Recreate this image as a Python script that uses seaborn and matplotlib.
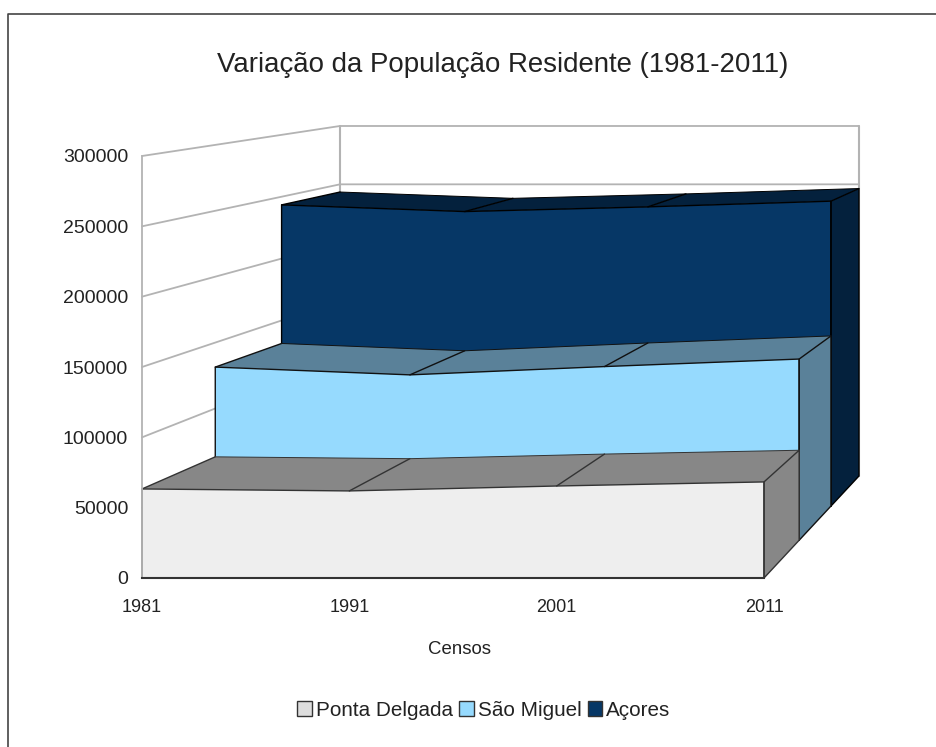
import matplotlib
matplotlib.use('Agg')
import matplotlib.pyplot as plt
from matplotlib.lines import Line2D
from matplotlib.patches import Patch
import seaborn as sns

censos = [1981, 1991, 2001, 2011]
ponta_delgada = [63300, 61900, 65400, 68300]
sao_miguel = [131400, 125500, 131800, 137500]
acores = [243400, 238000, 241800, 246400]
y_ticks = [0, 50000, 100000, 150000, 200000, 250000, 300000]

names = ['Ponta Delgada', 'São Miguel', 'Açores']
front_colors = ['#eeeeee', '#96dafe', '#063766']
shade_colors = ['#878787', '#5a8199', '#04213d']
legend_colors = ['#dddddd', '#96dafe', '#063766']
edge_colors = ['#333333', '#111111', '#000000']
# depth bands of the three areas, 0 = front of the box, 1 = back wall
depths = [(0, 0.37), (0.37, 0.705), (0.705, 1)]

W, H = 937, 747
GRID = '#b3b3b3'
TEXT = '#222222'

sns.set_style('white')
plt.rcParams['font.family'] = ['Liberation Sans', 'DejaVu Sans']


def project(year, value, z):
    # fake perspective: the back wall is shifted and a bit smaller than the front
    left = 1981 + z * 9.55
    right = 2011 + z * 4.58
    x = left + (year - 1981) / 30 * (right - left)
    y = z * 72512 + value * (1 - z * 0.1706)
    return x, y


def line(ax, pts, color, lw=1.0, zorder=2):
    xs = [p[0] for p in pts]
    ys = [p[1] for p in pts]
    sns.lineplot(x=xs, y=ys, estimator=None, sort=False, color=color, linewidth=lw,
                 legend=False, ax=ax, clip_on=False, zorder=zorder)


def face(ax, pts, color, zorder):
    ax.fill([p[0] for p in pts], [p[1] for p in pts], color=color, lw=0,
            clip_on=False, zorder=zorder)


def draw_area(ax, values, z0, z1, front, shade, ec, zorder):
    top_front = [project(c, v, z0) for c, v in zip(censos, values)]
    top_back = [project(c, v, z1) for c, v in zip(censos, values)]
    for i in range(len(censos) - 1):
        face(ax, [top_front[i], top_front[i + 1], top_back[i + 1], top_back[i]], shade, zorder)
    # right hand side
    side = [project(2011, 0, z0), top_front[-1], top_back[-1], project(2011, 0, z1)]
    face(ax, side, shade, zorder)
    outline = [project(1981, 0, z0)] + top_front + [project(2011, 0, z0)]
    face(ax, outline, front, zorder)
    line(ax, outline + [outline[0]], ec, zorder=zorder + 1)
    line(ax, side + [side[0]], ec, zorder=zorder + 1)
    line(ax, top_back, ec, 0.7, zorder=zorder + 1)
    for i in range(len(censos) - 1):
        line(ax, [top_front[i], top_back[i]], ec, zorder=zorder + 1)


fig = plt.figure(figsize=(W / 100, H / 100), dpi=100)
ax = fig.add_axes([142 / W, 1 - 578 / H, 622 / W, 422 / H])
ax.patch.set_alpha(0)

# walls and grid
for t in y_ticks:
    line(ax, [project(1981, t, 0), project(1981, t, 1), project(2011, t, 1)], GRID, 1.3)
line(ax, [project(1981, 0, 1), project(1981, 300000, 1)], GRID, 1.5)
line(ax, [project(2011, 0, 1), project(2011, 300000, 1)], GRID, 1.5)

series = [ponta_delgada, sao_miguel, acores]
for n, k in enumerate([2, 1, 0]):
    draw_area(ax, series[k], depths[k][0], depths[k][1],
              front_colors[k], shade_colors[k], edge_colors[k], 3 + 2 * n)

ax.set_xlim(1981, 2011)
ax.set_ylim(0, 300000)
ax.set_xticks(censos)
ax.set_yticks(y_ticks)
ax.set_xticklabels([str(c) for c in censos], fontsize=13, color=TEXT)
ax.set_yticklabels([str(t) for t in y_ticks], fontsize=14, color=TEXT, va='center_baseline')
ax.tick_params(axis='x', length=0, pad=15)
ax.tick_params(axis='y', length=0, pad=10)
ax.set_ylabel('')
ax.set_xlabel('Censos', fontsize=13.4, color=TEXT)
ax.xaxis.set_label_coords((460 - 142) / 622, -(650 - 578) / 422)
ax.xaxis.label.set_va('center')
sns.despine(ax=ax, top=True, right=True)
ax.spines['left'].set_color(GRID)
ax.spines['left'].set_linewidth(1.3)
ax.spines['bottom'].set_color('#333333')
ax.spines['bottom'].set_linewidth(1.5)
ax.spines['left'].set_zorder(10)
ax.spines['bottom'].set_zorder(10)

fig.text(503 / W, 1 - 65 / H, 'Variação da População Residente (1981-2011)',
         fontsize=19.9, color=TEXT, ha='center', va='center')

handles = [Patch(facecolor=c, edgecolor='#333333', linewidth=1) for c in legend_colors]
fig.legend(handles, names, loc='center', bbox_to_anchor=(484 / W, 1 - 710 / H), ncol=3,
           frameon=False, fontsize=14.9, labelcolor=TEXT, columnspacing=0.3,
           handletextpad=0.2, handlelength=0.7, handleheight=0.7, borderpad=0)

# frame of the screenshot, only left and top show
fig.add_artist(Line2D([8.5 / W, 8.5 / W, 1], [0, 1 - 13.5 / H, 1 - 13.5 / H],
                      color='#444444', lw=1.2))

fig.savefig('out.png', dpi=100)
